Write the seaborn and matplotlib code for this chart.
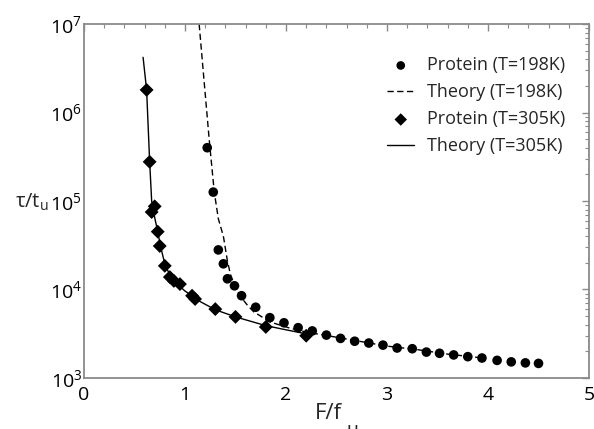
import numpy as np
import pandas as pd
import matplotlib
matplotlib.use("Agg")
import matplotlib.pyplot as plt
import seaborn as sns
from matplotlib.ticker import MultipleLocator, LogLocator, NullFormatter

# -------------------------- data --------------------------
# Protein, T=198K (circles)
f_198 = [1.22, 1.28, 1.33, 1.38, 1.42, 1.49, 1.56, 1.70, 1.84, 1.98, 2.12, 2.26,
         2.40, 2.54, 2.68, 2.82, 2.96, 3.10, 3.25, 3.39, 3.52, 3.66, 3.80, 3.94,
         4.09, 4.23, 4.37, 4.50]
tau_198 = [4.0e5, 1.26e5, 2.8e4, 1.95e4, 1.32e4, 1.1e4, 8.5e3, 6.3e3, 4.8e3, 4.2e3,
           3.7e3, 3.4e3, 3.05e3, 2.8e3, 2.6e3, 2.48e3, 2.35e3, 2.18e3, 2.14e3, 1.96e3,
           1.9e3, 1.82e3, 1.74e3, 1.68e3, 1.58e3, 1.52e3, 1.48e3, 1.46e3]

# Theory, T=198K (dashed)
f_th198 = [1.14, 1.19, 1.24, 1.29, 1.33, 1.38, 1.42, 1.45, 1.50, 1.55, 1.62, 1.68,
           1.84, 2.04, 2.20, 2.40, 2.70, 3.00, 3.30, 3.60, 3.95]
tau_th198 = [1.0e7, 2.2e6, 4.9e5, 1.26e5, 6.3e4, 4.0e4, 2.1e4, 1.48e4, 1.05e4, 8.3e3,
             6.6e3, 5.6e3, 4.3e3, 3.65e3, 3.3e3, 3.02e3, 2.63e3, 2.29e3, 2.09e3,
             1.86e3, 1.68e3]

# Protein, T=305K (diamonds)
f_305 = [0.62, 0.65, 0.67, 0.70, 0.73, 0.75, 0.80, 0.85, 0.89, 0.95, 1.07, 1.10,
         1.30, 1.50, 1.80, 2.20]
tau_305 = [1.8e6, 2.77e5, 7.5e4, 8.7e4, 4.5e4, 3.1e4, 1.85e4, 1.38e4, 1.25e4, 1.15e4,
           8.5e3, 7.8e3, 6.0e3, 4.9e3, 3.77e3, 3.0e3]

# Theory, T=305K (solid)
f_th305 = [0.585, 0.62, 0.65, 0.67, 0.70, 0.73, 0.76, 0.80, 0.85, 0.90, 0.95, 1.00,
           1.07, 1.15, 1.30, 1.50, 1.80, 2.00, 2.20]
tau_th305 = [4.2e6, 1.8e6, 2.8e5, 1.0e5, 6.5e4, 4.5e4, 3.0e4, 1.95e4, 1.45e4, 1.2e4,
             1.08e4, 9.6e3, 8.5e3, 7.3e3, 5.9e3, 4.9e3, 3.9e3, 3.5e3, 3.15e3]

# -------------------------- style --------------------------
sns.set_style("white")
plt.rcParams['font.family'] = ['Open Sans', 'DejaVu Sans']
plt.rcParams['mathtext.fontset'] = 'custom'
plt.rcParams['mathtext.rm'] = 'Open Sans'
plt.rcParams['mathtext.it'] = 'Open Sans'
plt.rcParams['mathtext.sf'] = 'Open Sans'

GRAY = '#8a8a8a'

fig = plt.figure(figsize=(5.94, 4.29), dpi=100)
ax = fig.add_axes([0.1414, 0.119, 0.8502, 0.825])

sns.scatterplot(x=f_198, y=tau_198, ax=ax, marker='o', s=48, color='black',
                edgecolor='none', label='Protein (T=198K)', zorder=3)
sns.lineplot(x=f_th198, y=tau_th198, ax=ax, color='black', lw=1.0,
             linestyle=(0, (4.5, 2.5)), sort=False, estimator=None,
             label='Theory (T=198K)', zorder=2)
sns.scatterplot(x=f_305, y=tau_305, ax=ax, marker='D', s=50, color='black',
                edgecolor='none', label='Protein (T=305K)', zorder=3)
sns.lineplot(x=f_th305, y=tau_th305, ax=ax, color='black', lw=1.0,
             sort=False, estimator=None, label='Theory (T=305K)', zorder=2)

ax.set_yscale('log')
ax.set_xlim(0, 5)
ax.set_ylim(1e3, 1e7)

ax.xaxis.set_major_locator(MultipleLocator(1))
ax.xaxis.set_minor_locator(MultipleLocator(0.2))
ax.yaxis.set_major_locator(LogLocator(base=10, numticks=10))
ax.yaxis.set_minor_locator(LogLocator(base=10, subs=np.arange(2, 10), numticks=20))
ax.yaxis.set_minor_formatter(NullFormatter())

for s in ax.spines.values():
    s.set_color(GRAY)
    s.set_linewidth(1.3)

ax.tick_params(which='both', direction='in', top=True, right=True, color=GRAY,
               labelsize=14, labelcolor='black')
ax.tick_params(which='major', length=5, width=1.0)
ax.tick_params(which='minor', length=3, width=0.8)
ax.tick_params(axis='x', which='major', pad=6)
ax.tick_params(axis='y', which='major', pad=1.5)

# axis labels; the subscript of the x label runs off the bottom edge
ax.set_xlabel('')
ax.set_ylabel('')
ax.text(0.457, -0.07, 'F/f', transform=ax.transAxes, fontsize=16,
        ha='left', va='top')
ax.text(0.52, -0.122, 'u', transform=ax.transAxes, fontsize=14,
        ha='left', va='top')
ax.text(-0.137, 0.495, r'$\mathrm{\tau}$/t$_\mathrm{u}$', transform=ax.transAxes,
        fontsize=14.5, ha='left', va='center')

leg = ax.legend(loc='upper right', frameon=False, fontsize=13,
                bbox_to_anchor=(0.985, 0.955), handlelength=1.5,
                handletextpad=0.7, labelspacing=0.5, markerscale=0.9)

fig.savefig('out.png', dpi=100)
